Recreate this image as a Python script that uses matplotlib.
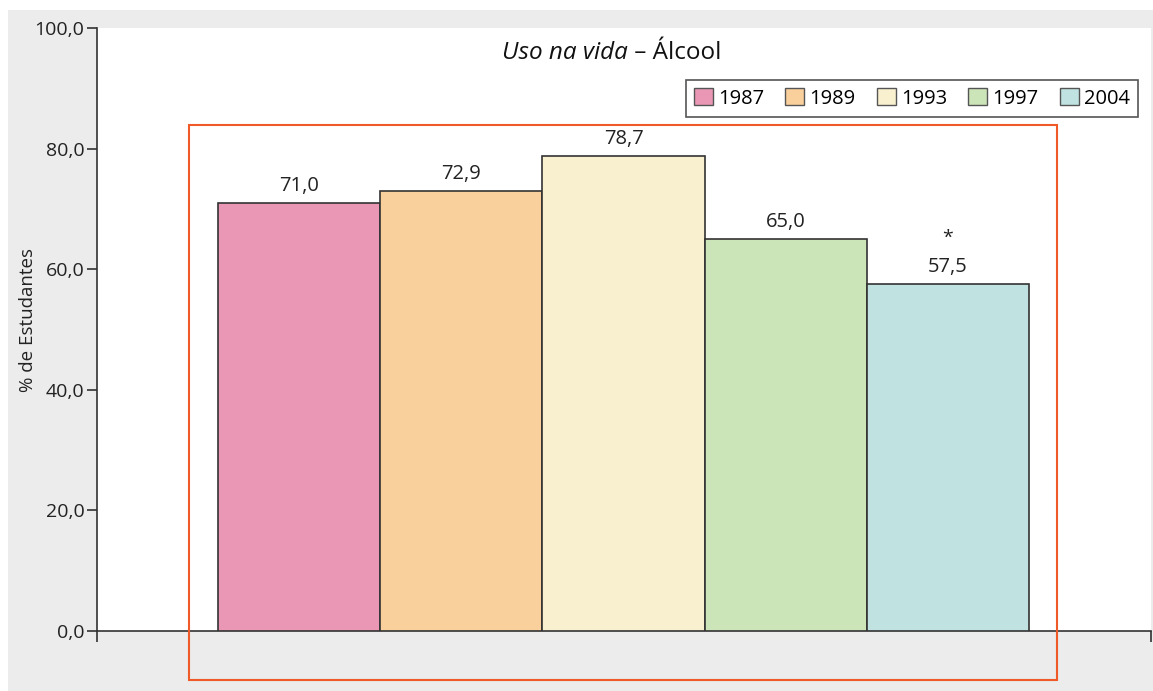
import matplotlib.pyplot as plt
from matplotlib.patches import Rectangle, Patch

plt.rcParams['font.family'] = ['Open Sans', 'DejaVu Sans']

anos = ['1987', '1989', '1993', '1997', '2004']
valores = [71.0, 72.9, 78.7, 65.0, 57.5]
rotulos = ['71,0', '72,9', '78,7', '65,0', '57,5']
cores = ['#ea97b5', '#f9cf9c', '#f9f0d0', '#cbe4b8', '#c0e3e1']
yticks = [0, 20, 40, 60, 80, 100]
ytick_labels = ['0,0', '20,0', '40,0', '60,0', '80,0', '100,0']

W, H = 1153, 691
fig = plt.figure(figsize=(W / 100, H / 100), dpi=100, facecolor='white')

# fundo cinza
fig.patches.append(Rectangle((8 / W, 0), (W - 8) / W, (H - 10) / H,
                             transform=fig.transFigure, facecolor='#ebeceb',
                             edgecolor='none', zorder=-10))

ax = fig.add_axes([97 / W, (H - 631) / H, (1151 - 97) / W, 603 / H])
ax.set_facecolor('white')

x = list(range(len(anos)))
ax.bar(x, valores, width=1.0, color=cores, edgecolor='#333333', linewidth=1.2, zorder=3)

for xi, v, r in zip(x, valores, rotulos):
    ax.annotate(r, (xi, v), xytext=(0, 5), textcoords='offset points',
                ha='center', va='bottom', fontsize=14.5, color='#222222')
ax.annotate('*', (4, valores[4]), xytext=(0, 27), textcoords='offset points',
            ha='center', va='bottom', fontsize=14, color='#222222')

ax.set_xlim(-1.246, 5.252)
ax.set_ylim(0, 100)
ax.set_yticks(yticks)
ax.set_yticklabels(ytick_labels, fontsize=14, color='#222222')
ax.set_xticks([-1.246, 5.252])
ax.set_xticklabels([])
ax.tick_params(axis='y', direction='out', length=7, width=1.2, color='#333333', pad=2)
ax.tick_params(axis='x', direction='out', length=8, width=1.2, color='#333333')
for s in ['top', 'right']:
    ax.spines[s].set_visible(False)
for s in ['left', 'bottom']:
    ax.spines[s].set_color('#333333')
    ax.spines[s].set_linewidth(1.2)

fig.text(28 / W, 1 - 320 / H, '% de Estudantes', rotation=90, fontsize=13.5,
         ha='center', va='center', color='#222222')

# titulo
fig.text(628 / W, 1 - 53 / H, 'Uso na vida', style='italic', fontsize=17.5,
         ha='right', va='center', color='#111111')
fig.text(628 / W, 1 - 53 / H, ' – Álcool', fontsize=17.5,
         ha='left', va='center', color='#111111')

# legenda
handles = [Patch(facecolor=c, edgecolor='#555555', linewidth=1) for c in cores]
leg = ax.legend(handles, anos, ncol=5, loc='upper right',
                bbox_to_anchor=(1138 / W, 1 - 80 / H), bbox_transform=fig.transFigure,
                fontsize=14.5, frameon=True, fancybox=False, framealpha=1,
                edgecolor='#555555', handlelength=0.95, handleheight=0.95,
                handletextpad=0.25, columnspacing=1.05, borderpad=0.4,
                borderaxespad=0)
leg.get_frame().set_linewidth(1.2)

# retangulo vermelho
fig.patches.append(Rectangle((189 / W, 1 - 680 / H), (1057 - 189) / W, (680 - 125) / H,
                             transform=fig.transFigure, facecolor='none',
                             edgecolor='#f05a28', linewidth=1.5, zorder=20))

fig.savefig('out.png', dpi=100, facecolor=fig.get_facecolor())
